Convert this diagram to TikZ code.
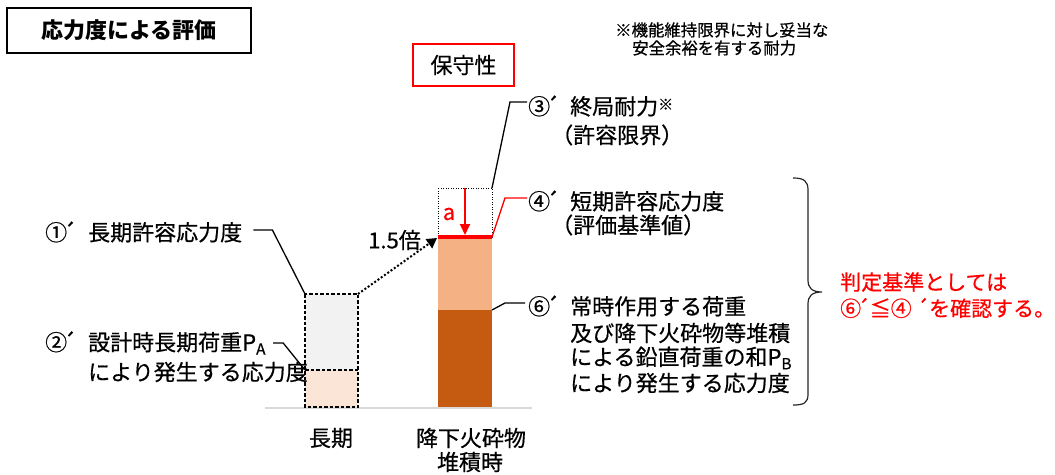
\documentclass[tikz,border=0pt]{standalone}
\usepackage{fontspec}
\setmainfont{Noto Sans CJK JP}[UprightFeatures={FakeBold=0.6}]
\usetikzlibrary{arrows.meta}
\definecolor{barlight}{HTML}{F4B183}
\definecolor{bardark}{HTML}{C55A11}
\definecolor{bargray}{HTML}{F2F2F2}
\definecolor{barpeach}{HTML}{FBE5D6}
\definecolor{basegray}{HTML}{D9D9D9}
\definecolor{myred}{HTML}{FF0000}
\newcommand\acu{\kern-0.2em´}
\begin{document}
\begin{tikzpicture}[x=1pt,y=-1pt,
  lbl/.style={inner sep=0pt, anchor=west, font=\fontsize{22}{26}\selectfont},
  ctr/.style={inner sep=0pt, font=\fontsize{22}{26}\selectfont},
  notetxt/.style={inner sep=0pt, anchor=west, font=\fontsize{16.4}{18}\selectfont},
  redtxt/.style={inner sep=0pt, anchor=west, text=myred, font=\fontsize{21}{24}\selectfont},
  lead/.style={line width=1.3pt, black},
  redlead/.style={line width=1.3pt, myred},
  dashbox/.style={line width=1.5pt, dash pattern=on 3.5pt off 2pt},
  dotbox/.style={line width=1pt, dash pattern=on 1pt off 1.5pt}]
\useasboundingbox (0,0) rectangle (1055,474);
\fill[white] (0,0) rectangle (1055,474);

% title and header boxes
\node[draw, line width=1.5pt, minimum width=244pt, minimum height=45pt, inner sep=0pt,
      font=\fontsize{22}{26}\selectfont\bfseries] (title) at (129,30.5) {応力度による評価};
\node[draw=myred, line width=1.2pt, minimum width=101pt, minimum height=42pt, inner sep=0pt,
      font=\fontsize{22}{26}\selectfont] (hoshu) at (463.5,65) {保守性};
\node[notetxt] (note1) at (615,30) {※機能維持限界に対し妥当な};
\node[notetxt] (note2) at (632,48) {安全余裕を有する耐力};

% baseline
\draw[basegray, line width=2pt] (265,408) -- (532,408);

% bar 1 (long term)
\coordinate (b1tl) at (305,294);
\coordinate (b1tr) at (358,294);
\coordinate (b1ml) at (305,370);
\coordinate (b1mr) at (358,370);
\coordinate (b1br) at (358,407);
\fill[bargray] (b1tl) rectangle (b1mr);
\fill[barpeach] (b1ml) rectangle (b1br);
\draw[dashbox] (b1tl) rectangle (b1br);
\draw[dashbox] (b1ml) -- (b1mr);

% bar 2 (ash deposit)
\coordinate (b2tl) at (438,188);
\coordinate (b2tr) at (492,188);
\coordinate (b2ul) at (438,237);
\coordinate (b2ur) at (492,237);
\coordinate (b2mr) at (492,310);
\coordinate (b2ml) at (438,310);
\coordinate (b2br) at (492,407);
\fill[bardark] (b2ml) rectangle (b2br);
\fill[barlight] (b2ul) rectangle (b2mr);
\draw[dotbox] (b2tl) rectangle (b2ur);
\draw[myred, line width=4pt] (b2ul) -- (b2ur);

% red arrow a
\coordinate (atop) at (465,188);
\coordinate (abot) at (465,235);
\draw[myred, line width=2pt, -{Triangle[length=11pt,width=10pt]}] (atop) -- (abot);
\node[ctr, text=myred] (alab) at (449,214) {a};

% 1.5x arrow
\coordinate (tip15) at (437,238);
\draw[line width=2pt, dash pattern=on 2pt off 2pt, -{Triangle[length=10pt,width=11pt]}] (b1tr) -- (tip15);
\node[ctr, anchor=east] (lab15) at (421,240) {1.5倍};

% labels left
\node[lbl] (l1) at (45,232) {\makebox[43pt][l]{①\acu}長期許容応力度};
\draw[lead] ([xshift=11pt,yshift=2pt]l1.east) -- ++(19,0) -- (b1tl);
\node[lbl] (l2a) at (45,343) {\makebox[43pt][l]{②\acu}設計時長期荷重P\textsubscript{A}};
\node[lbl] (l2b) at (88,372) {により発生する応力度};
\draw[lead] ([xshift=7pt]l2a.east) -- ++(10,0) -- (b1ml);

% labels right
\node[lbl] (l3a) at (528,106) {\makebox[42pt][l]{③\acu}終局耐力\raisebox{0.4ex}{\fontsize{15}{15}\selectfont ※}};
\node[lbl] (l3b) at (551,135) {（許容限界）};
\draw[lead] (b2tr) -- (510,102) -- ([xshift=-1pt,yshift=4pt]l3a.west);

\node[lbl] (l4a) at (528,201) {\makebox[42pt][l]{④\acu}短期許容応力度};
\node[lbl] (l4b) at (551,225) {（評価基準値）};
\draw[redlead] (b2ur) -- (505,198) -- ([xshift=-1pt,yshift=3pt]l4a.west);

\node[lbl] (l6a) at (528,306) {\makebox[42pt][l]{⑥\acu}常時作用する荷重};
\node[lbl] (l6b) at (570,333) {及び降下火砕物等堆積};
\node[lbl] (l6c) at (570,358) {による鉛直荷重の和P\textsubscript{B}};
\node[lbl] (l6d) at (570,383) {により発生する応力度};
\draw[lead] (b2mr) -- (505,303) -- ([xshift=-3pt,yshift=3pt]l6a.west);

% brace
\draw[line width=1.2pt, black!85] (793,178) .. controls (804,178) and (808,181) .. (808,190)
  -- (808,280) .. controls (808,288) and (812,292) .. (822,292)
  .. controls (812,292) and (808,296) .. (808,304)
  -- (808,394) .. controls (808,403) and (804,405) .. (793,405);

% red conclusion
\node[redtxt] (r1) at (840,282) {判定基準としては};
\node[redtxt] (r2) at (840,308) {⑥\acu≦④ ´を確認する。};

% bottom labels
\node[ctr] (x1) at (331,438) {長期};
\node[ctr] (x2a) at (471,438) {降下火砕物};
\node[ctr] (x2b) at (470,462) {堆積時};
\end{tikzpicture}
\end{document}
